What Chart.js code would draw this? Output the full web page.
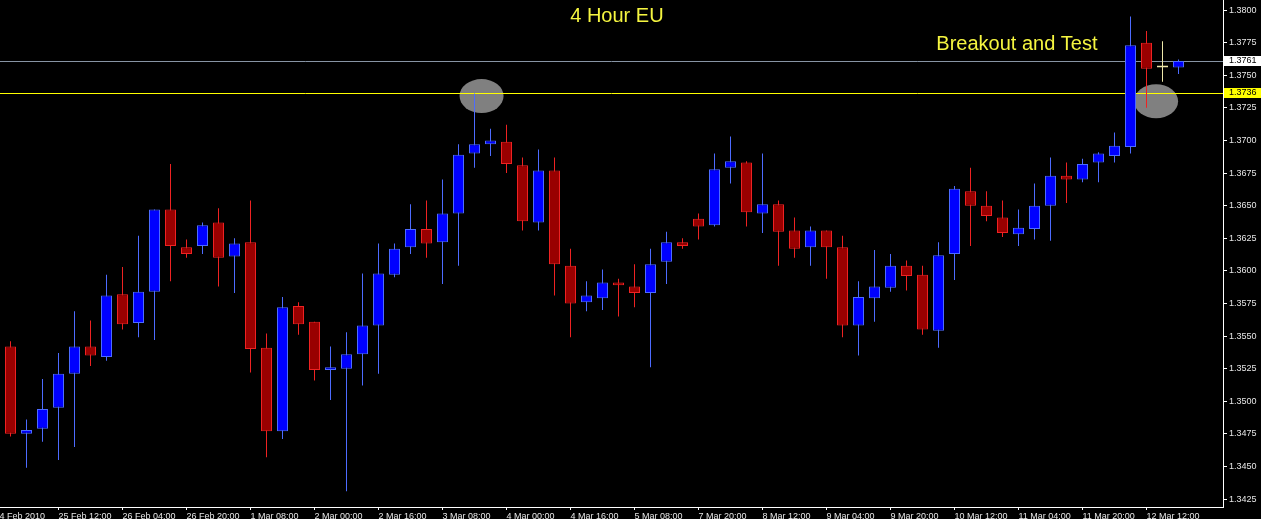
<!DOCTYPE html>
<html lang="en">
<head>
    <meta charset="UTF-8">
    <meta name="viewport" content="width=device-width, initial-scale=1.0">
    <title>4 Hour EU</title>
    <script src="https://cdn.jsdelivr.net/npm/chart.js"></script>
    <style>
        html, body {
            margin: 0;
            padding: 0;
            background: #000;
        }
        .chart-box {
            width: 1261px;
            height: 519px;
            position: relative;
        }
    </style>
</head>
<body>
<div class="chart-box">
    <canvas id="euChart"></canvas>
</div>

<script>
    // EURUSD 4h candles, 25 Feb 00:00 -> 12 Mar 20:00
    const opens = [
        1.3542, 1.3475, 1.3479, 1.3495, 1.3521, 1.3542, 1.3534, 1.3582, 1.3560, 1.3584,
        1.3647, 1.3618, 1.3619, 1.3637, 1.3611, 1.3622, 1.3541, 1.3477, 1.3573, 1.3561,
        1.3524, 1.3525, 1.3536, 1.3558, 1.3597, 1.3618, 1.3632, 1.3622, 1.3644, 1.3690,
        1.3697, 1.3699, 1.3681, 1.3637, 1.3677, 1.3604, 1.3576, 1.3579, 1.3591, 1.3588,
        1.3583, 1.3607, 1.3622, 1.3640, 1.3635, 1.3679, 1.3683, 1.3644, 1.3651, 1.3631,
        1.3618, 1.3631, 1.3618, 1.3558, 1.3579, 1.3587, 1.3604, 1.3597, 1.3554, 1.3613,
        1.3661, 1.3650, 1.3641, 1.3628, 1.3632, 1.3650, 1.3673, 1.3670, 1.3683, 1.3688,
        1.3695, 1.3775, 1.3756, 1.3756
    ];
    const highs = [
        1.3546, 1.3486, 1.3517, 1.3537, 1.3569, 1.3562, 1.3597, 1.3603, 1.3627, 1.3647,
        1.3682, 1.3624, 1.3637, 1.3648, 1.3625, 1.3654, 1.3552, 1.3580, 1.3576, 1.3561,
        1.3542, 1.3553, 1.3598, 1.3621, 1.3621, 1.3651, 1.3654, 1.3670, 1.3697, 1.3736,
        1.3709, 1.3712, 1.3687, 1.3693, 1.3687, 1.3617, 1.3592, 1.3601, 1.3594, 1.3605,
        1.3617, 1.3630, 1.3625, 1.3644, 1.3690, 1.3703, 1.3684, 1.3690, 1.3654, 1.3641,
        1.3634, 1.3631, 1.3627, 1.3592, 1.3616, 1.3613, 1.3608, 1.3604, 1.3622, 1.3665,
        1.3679, 1.3661, 1.3654, 1.3647, 1.3667, 1.3687, 1.3683, 1.3686, 1.3691, 1.3706,
        1.3795, 1.3784, 1.3776, 1.3762
    ];
    const lows = [
        1.3473, 1.3449, 1.3469, 1.3455, 1.3465, 1.3527, 1.3531, 1.3555, 1.3549, 1.3547,
        1.3592, 1.3610, 1.3613, 1.3588, 1.3583, 1.3522, 1.3457, 1.3471, 1.3551, 1.3516,
        1.3501, 1.3431, 1.3512, 1.3521, 1.3595, 1.3613, 1.3610, 1.3590, 1.3604, 1.3679,
        1.3688, 1.3675, 1.3631, 1.3631, 1.3581, 1.3549, 1.3569, 1.3570, 1.3565, 1.3572,
        1.3526, 1.3590, 1.3617, 1.3624, 1.3634, 1.3667, 1.3634, 1.3629, 1.3604, 1.3610,
        1.3604, 1.3594, 1.3549, 1.3535, 1.3561, 1.3584, 1.3585, 1.3551, 1.3541, 1.3593,
        1.3619, 1.3638, 1.3626, 1.3619, 1.3624, 1.3623, 1.3652, 1.3668, 1.3668, 1.3683,
        1.3690, 1.3725, 1.3745, 1.3751
    ];
    const closes = [
        1.3475, 1.3478, 1.3494, 1.3521, 1.3542, 1.3535, 1.3581, 1.3559, 1.3584, 1.3647,
        1.3619, 1.3613, 1.3635, 1.3610, 1.3621, 1.3540, 1.3477, 1.3572, 1.3559, 1.3524,
        1.3526, 1.3536, 1.3558, 1.3598, 1.3617, 1.3632, 1.3621, 1.3644, 1.3689, 1.3697,
        1.3700, 1.3682, 1.3638, 1.3677, 1.3605, 1.3575, 1.3581, 1.3591, 1.3589, 1.3583,
        1.3605, 1.3622, 1.3619, 1.3634, 1.3678, 1.3684, 1.3645, 1.3651, 1.3630, 1.3617,
        1.3631, 1.3618, 1.3558, 1.3580, 1.3588, 1.3604, 1.3596, 1.3555, 1.3612, 1.3663,
        1.3650, 1.3642, 1.3629, 1.3633, 1.3650, 1.3673, 1.3670, 1.3682, 1.3690, 1.3696,
        1.3773, 1.3755, 1.3756, 1.3761
    ];

    // time axis: candle index of each label
    const xTickIdx = [-1, 3, 7, 11, 15, 19, 23, 27, 31, 35, 39, 43, 47, 51, 55, 59, 63, 67, 71];
    const xTickLabels = [
        '24 Feb 2010', '25 Feb 12:00', '26 Feb 04:00', '26 Feb 20:00', '1 Mar 08:00',
        '2 Mar 00:00', '2 Mar 16:00', '3 Mar 08:00', '4 Mar 00:00', '4 Mar 16:00',
        '5 Mar 08:00', '7 Mar 20:00', '8 Mar 12:00', '9 Mar 04:00', '9 Mar 20:00',
        '10 Mar 12:00', '11 Mar 04:00', '11 Mar 20:00', '12 Mar 12:00'
    ];
    const yTicks = [
        1.3425, 1.3450, 1.3475, 1.3500, 1.3525, 1.3550, 1.3575, 1.3600,
        1.3625, 1.3650, 1.3675, 1.3700, 1.3725, 1.3750, 1.3775, 1.3800
    ];

    const bidPrice = 1.3761;     // grey line, current price
    const levelPrice = 1.3736;   // yellow line, old high
    const circleIdx = [29.44, 71.6];
    const circlePrice = [1.3734, 1.3730];

    const idx = opens.map((o, i) => i);
    const upCol = '#0000ff', upEdge = '#4d6bff';
    const dnCol = '#990000', dnEdge = '#ee2222';
    const dojiCol = '#eee8aa';

    const fills = opens.map((o, i) => closes[i] > o ? upCol : closes[i] < o ? dnCol : dojiCol);
    const edges = opens.map((o, i) => closes[i] > o ? upEdge : closes[i] < o ? dnEdge : dojiCol);

    const overlay = {
        id: 'overlay',
        beforeDatasetsDraw(chart) {
            const {ctx, chartArea: a, scales: {x, y}} = chart;
            ctx.save();
            ctx.fillStyle = '#808080';
            circleIdx.forEach((c, i) => {
                ctx.beginPath();
                ctx.ellipse(x.getPixelForValue(c), y.getPixelForValue(circlePrice[i]), 22, 17, 0, 0, Math.PI * 2);
                ctx.fill();
            });
            ctx.lineWidth = 1;
            ctx.strokeStyle = '#8794a4';
            let py = Math.round(y.getPixelForValue(bidPrice)) + 0.5;
            ctx.beginPath(); ctx.moveTo(a.left, py); ctx.lineTo(a.right, py); ctx.stroke();
            ctx.strokeStyle = '#ffff00';
            py = Math.round(y.getPixelForValue(levelPrice)) + 0.5;
            ctx.beginPath(); ctx.moveTo(a.left, py); ctx.lineTo(a.right, py); ctx.stroke();
            ctx.restore();
        },
        afterDraw(chart) {
            const {ctx, chartArea: a, scales: {x, y}} = chart;
            ctx.save();
            // price tags on the axis
            [[bidPrice, '#ffffff'], [levelPrice, '#ffff00']].forEach(([p, bg]) => {
                const py = Math.round(y.getPixelForValue(p));
                ctx.fillStyle = bg;
                ctx.fillRect(a.right + 1, py - 5, 40, 10);
                ctx.fillStyle = '#000';
                ctx.font = '9px "Liberation Sans"';
                ctx.textBaseline = 'middle';
                ctx.textAlign = 'left';
                ctx.fillText(p.toFixed(4), a.right + 6, py);
            });
            // captions
            ctx.fillStyle = '#f5f540';
            ctx.font = '20px "Liberation Sans"';
            ctx.textAlign = 'center';
            ctx.textBaseline = 'middle';
            ctx.fillText('4 Hour EU', x.getPixelForValue(37.9), y.getPixelForValue(1.37954));
            ctx.fillText('Breakout and Test', x.getPixelForValue(62.9), y.getPixelForValue(1.37739));
            ctx.restore();
        }
    };

    const data = {
        datasets: [{
            label: 'wick',
            data: idx.map(i => ({x: i, y: [lows[i], highs[i]]})),
            backgroundColor: edges,
            borderWidth: 0,
            barThickness: 1,
            grouped: false,
            inflateAmount: 0,
            order: 2
        }, {
            label: 'body',
            data: idx.map(i => ({x: i, y: [opens[i], closes[i]]})),
            backgroundColor: fills,
            borderColor: edges,
            borderWidth: 1,
            borderSkipped: false,
            barThickness: 11,
            minBarLength: 2,
            grouped: false,
            inflateAmount: 0,
            order: 1
        }]
    };

    const config = {
        type: 'bar',
        data: data,
        plugins: [overlay],
        options: {
            responsive: true,
            maintainAspectRatio: false,
            animation: false,
            layout: { padding: 0 },
            plugins: {
                legend: { display: false },
                tooltip: { enabled: false }
            },
            scales: {
                x: {
                    type: 'linear',
                    bounds: 'data',
                    offset: false,
                    min: -0.65625,
                    max: 75.78125,
                    grid: { offset: false, drawOnChartArea: false, color: '#ffffff', tickLength: 3 },
                    border: { color: '#ffffff' },
                    ticks: {
                        autoSkip: false,
                        maxRotation: 0,
                        align: 'start',
                        padding: 1,
                        color: '#e6e6e6',
                        font: { family: 'Liberation Sans', size: 9 },
                        callback: (v, i) => xTickLabels[i]
                    },
                    afterBuildTicks: s => { s.ticks = xTickIdx.map(v => ({value: v})); },
                    afterFit: s => { s.height = 12; s.paddingLeft = 0; s.paddingRight = 0; }
                },
                y: {
                    position: 'right',
                    bounds: 'data',
                    min: 1.34189,
                    max: 1.38077,
                    grid: { drawOnChartArea: false, color: '#ffffff', tickLength: 4 },
                    border: { color: '#ffffff' },
                    ticks: {
                        padding: 2,
                        color: '#e6e6e6',
                        font: { family: 'Liberation Sans', size: 9 },
                        callback: v => v.toFixed(4)
                    },
                    afterBuildTicks: s => { s.ticks = yTicks.map(v => ({value: v})); },
                    afterFit: s => { s.width = 38; s.paddingTop = 0; s.paddingBottom = 0; }
                }
            }
        }
    };

    const ctx = document.getElementById('euChart').getContext('2d');
    const euChart = new Chart(ctx, config);
</script>
</body>
</html>
